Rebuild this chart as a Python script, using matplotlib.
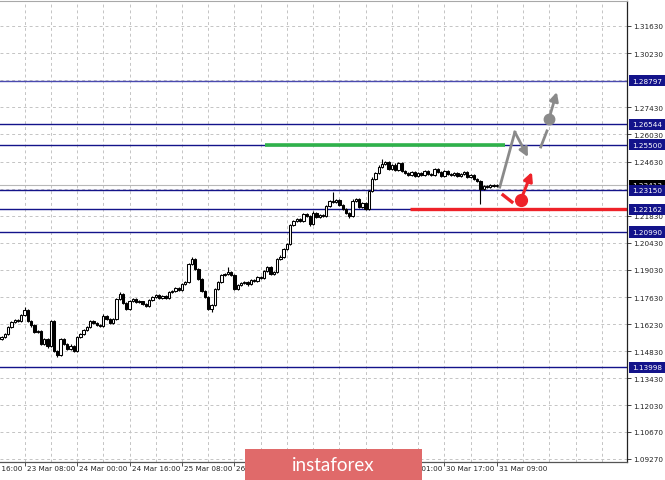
import matplotlib
matplotlib.use("Agg")
import matplotlib.pyplot as plt
import matplotlib.transforms as mtransforms
from matplotlib.patches import Rectangle

# =========================================================
# DATA (H1 candles)
# =========================================================

FIRST_OPEN = 1.1546
CLOSES = [
    1.1556, 1.1572, 1.1608, 1.1634, 1.1644, 1.1639, 1.1670, 1.1696, 1.1639, 1.1618,
    1.1582, 1.1587, 1.1520, 1.1546, 1.1510, 1.1639, 1.1484, 1.1463, 1.1546, 1.1520,
    1.1494, 1.1510, 1.1484, 1.1556, 1.1572, 1.1593, 1.1608, 1.1639, 1.1629, 1.1618,
    1.1613, 1.1665, 1.1649, 1.1629, 1.1649, 1.1753, 1.1779, 1.1732, 1.1701, 1.1742,
    1.1753, 1.1737, 1.1742, 1.1727, 1.1717, 1.1748, 1.1763, 1.1774, 1.1758, 1.1768,
    1.1758, 1.1789, 1.1794, 1.1810, 1.1799, 1.1830, 1.1841, 1.1933, 1.1959, 1.1908,
    1.1856, 1.1794, 1.1763, 1.1701, 1.1722, 1.1804, 1.1841, 1.1877, 1.1882, 1.1892,
    1.1877, 1.1804, 1.1825, 1.1836, 1.1841, 1.1830, 1.1851, 1.1846, 1.1866, 1.1861,
    1.1897, 1.1918, 1.1882, 1.1892, 1.1959, 1.1970, 1.2011, 1.2037, 1.2135, 1.2155,
    1.2166, 1.2155, 1.2192, 1.2181, 1.2140, 1.2197, 1.2176, 1.2186, 1.2181, 1.2233,
    1.2259, 1.2254, 1.2264, 1.2238, 1.2217, 1.2197, 1.2181, 1.2259, 1.2269, 1.2228,
    1.2248, 1.2217, 1.2310, 1.2373, 1.2403, 1.2434, 1.2450, 1.2460, 1.2424, 1.2445,
    1.2419, 1.2455, 1.2414, 1.2403, 1.2393, 1.2409, 1.2388, 1.2403, 1.2393, 1.2414,
    1.2398, 1.2393, 1.2424, 1.2409, 1.2388, 1.2414, 1.2398, 1.2393, 1.2403, 1.2388,
    1.2398, 1.2409, 1.2383, 1.2393, 1.2373, 1.2362, 1.2321, 1.2336, 1.2331, 1.2341,
    1.2336, 1.2341,
]
UP_WICK_PIPS = [
    5, 4, 6, 3, 5, 4, 6, 15, 4, 5,
    6, 5, 4, 8, 5, 6, 7, 5, 6, 4,
    5, 8, 4, 6, 5, 3, 6, 5, 7, 4,
    5, 8, 6, 4, 5, 6, 10, 5, 4, 7,
    5, 4, 6, 3, 5, 6, 4, 5, 7, 4,
    5, 6, 4, 5, 7, 5, 6, 8, 10, 6,
    5, 7, 4, 6, 5, 8, 6, 5, 7, 26,
    5, 6, 4, 7, 5, 6, 4, 5, 8, 5,
    6, 7, 5, 4, 6, 8, 5, 7, 6, 8,
    5, 7, 6, 5, 4, 8, 5, 6, 4, 7,
    6, 46, 5, 6, 4, 5, 7, 8, 6, 5,
    7, 5, 6, 8, 6, 10, 26, 7, 5, 6,
    8, 7, 5, 4, 6, 5, 4, 6, 5, 7,
    5, 6, 8, 5, 4, 7, 5, 6, 4, 5,
    6, 5, 4, 7, 5, 6, 4, 5, 6, 5,
    7, 5,
]
DOWN_WICK_PIPS = [
    6, 5, 4, 6, 5, 7, 4, 5, 6, 8,
    5, 7, 6, 4, 8, 6, 5, 10, 5, 6,
    7, 5, 6, 5, 4, 6, 5, 7, 4, 5,
    6, 4, 7, 5, 6, 4, 5, 7, 6, 5,
    4, 6, 5, 7, 5, 4, 6, 5, 4, 6,
    5, 4, 6, 5, 4, 6, 5, 4, 6, 7,
    6, 5, 7, 5, 15, 6, 5, 7, 4, 6,
    5, 7, 6, 5, 4, 8, 5, 6, 5, 4,
    6, 5, 7, 5, 6, 4, 5, 6, 5, 4,
    6, 5, 7, 5, 10, 6, 5, 7, 5, 6,
    5, 6, 4, 7, 5, 6, 8, 5, 6, 7,
    5, 6, 7, 5, 6, 4, 5, 6, 7, 5,
    6, 5, 7, 4, 6, 5, 7, 5, 6, 4,
    5, 7, 4, 6, 5, 6, 5, 4, 6, 5,
    4, 6, 5, 7, 5, 6, 78, 5, 4, 6,
    5, 4,
]

# levels (blue lines + boxed labels on the price scale)
LEVELS = [1.28797, 1.26544, 1.25500, 1.23150, 1.22162, 1.20990, 1.13998]
CURRENT_PRICE = 1.23413
GREEN_LEVEL = 1.25500
GREEN_SPAN = [80.3, 153.5]
RED_LEVEL = 1.22162
RED_START = 124.5

# forecast sketch (candle index, price)
GRAY_PATH_X = [151.9, 156.5, 160.5]
GRAY_PATH_Y = [1.2331, 1.2615, 1.2486]
GRAY_DASH_X = [164.4, 166.3]
GRAY_DASH_Y = [1.2538, 1.2621]
GRAY_DOT = (166.9, 1.2683)
GRAY_TARGET = (169.3, 1.2822)
RED_DASH_X = [152.9, 155.6]
RED_DASH_Y = [1.2290, 1.2254]
RED_DOT = (158.3, 1.2264)
RED_TARGET = (161.7, 1.2409)

YTICKS = [1.3163, 1.3023, 1.2743, 1.2603, 1.2463, 1.2183, 1.2043, 1.1903,
          1.1763, 1.1623, 1.1483, 1.1343, 1.1203, 1.1067, 1.0927]
YGRID_EXTRA = [1.2883, 1.2323]
XTICK_POS = [-9, 7, 23, 39, 55, 71, 87, 103, 119, 135, 151]
XTICK_LABELS = ["22 Mar 16:00", "23 Mar 08:00", "24 Mar 00:00", "24 Mar 16:00",
                "25 Mar 08:00", "26 Mar 00:00", "26 Mar 16:00", "27 Mar 08:00",
                "30 Mar 01:00", "30 Mar 17:00", "31 Mar 09:00"]

# =========================================================
# STYLE
# =========================================================

NAVY = "#13138a"
GRID = "#c4c4c4"
GREEN = "#2fb24a"
RED = "#ee2229"
GRAY = "#8a8a8a"
W, H = 665, 481

fig = plt.figure(figsize=(W / 100, H / 100), dpi=100)
ax = fig.add_axes([0, 18 / H, 627 / W, (463 - 2) / H])
ax.set_xlim(-0.5, 190.7)
ax.set_ylim(1.0911, 1.3292)

# grid
for v in YTICKS + YGRID_EXTRA:
    ax.axhline(v, color=GRID, lw=0.7, ls=(0, (3, 3)), zorder=0)
for g in range(-1, 191, 8):
    ax.axvline(g, color=GRID, lw=0.7, ls=(0, (3, 3)), zorder=0)

# levels
for lv in LEVELS:
    c = "#4a4ab0" if lv == LEVELS[0] else NAVY
    ax.axhline(lv, color=c, lw=1.0, zorder=1)
ax.axhline(CURRENT_PRICE, color="#b8b8b8", lw=0.8, zorder=1)
ax.plot(GREEN_SPAN, [GREEN_LEVEL] * 2, color=GREEN, lw=2.6, zorder=2, solid_capstyle="butt")
ax.plot([RED_START, 191], [RED_LEVEL] * 2, color=RED, lw=2.4, zorder=2, solid_capstyle="butt")

# candles
opens = [FIRST_OPEN] + CLOSES[:-1]
for i, (o, c) in enumerate(zip(opens, CLOSES)):
    hi = max(o, c) + UP_WICK_PIPS[i] * 1e-4
    lo = min(o, c) - DOWN_WICK_PIPS[i] * 1e-4
    ax.vlines(i, lo, hi, color="black", lw=0.8, zorder=3)
    fc = "white" if c >= o else "black"
    ax.bar(i, abs(c - o), bottom=min(o, c), width=0.72, facecolor=fc,
           edgecolor="black", linewidth=0.75, zorder=4)

# forecast arrows
ax.plot(GRAY_PATH_X[:2], GRAY_PATH_Y[:2], color=GRAY, lw=2.0, zorder=5)
ax.annotate("", xy=(GRAY_PATH_X[2], GRAY_PATH_Y[2]), xytext=(GRAY_PATH_X[1], GRAY_PATH_Y[1]),
            arrowprops=dict(arrowstyle="-|>", color=GRAY, lw=2.0, mutation_scale=13,
                            shrinkA=0, shrinkB=0), zorder=5)
ax.plot(GRAY_DASH_X, GRAY_DASH_Y, color=GRAY, lw=2.0, zorder=5)
ax.plot(*GRAY_DOT, "o", ms=7.5, color=GRAY, zorder=5)
ax.annotate("", xy=GRAY_TARGET, xytext=GRAY_DOT,
            arrowprops=dict(arrowstyle="-|>", color=GRAY, lw=2.0, mutation_scale=13,
                            shrinkA=0, shrinkB=0), zorder=5)
ax.plot(RED_DASH_X, RED_DASH_Y, color=RED, lw=2.4, zorder=5)
ax.plot(*RED_DOT, "o", ms=8.5, color=RED, zorder=5)
ax.annotate("", xy=RED_TARGET, xytext=RED_DOT,
            arrowprops=dict(arrowstyle="-|>", color=RED, lw=2.2, mutation_scale=13,
                            shrinkA=0, shrinkB=0), zorder=5)

# axes / ticks
ax.spines["left"].set_visible(False)
ax.spines["top"].set_color("#a8a8a8")
ax.spines["right"].set_color("#222222")
ax.spines["bottom"].set_color("#555555")
ax.spines["top"].set_linewidth(0.8)
ax.spines["right"].set_linewidth(0.9)
ax.spines["bottom"].set_linewidth(0.9)
ax.yaxis.tick_right()
ax.set_yticks(YTICKS)
ax.set_yticklabels([f"{v:.5f}" for v in YTICKS])
ax.tick_params(axis="y", length=3, width=0.6, pad=1.5, labelsize=5.2, colors="#222222")
ax.set_xticks([p for p in XTICK_POS if p >= 0])
ax.set_xticklabels([])
ax.tick_params(axis="x", length=3, width=0.6, direction="out", colors="#333333")

for p, lab in zip(XTICK_POS, XTICK_LABELS):
    ax.annotate(lab, xy=(p, 0), xycoords=("data", "axes fraction"),
                xytext=(2, -3), textcoords="offset pixels", ha="left", va="top",
                fontsize=5.2, color="#222222", annotation_clip=False)

# boxed price labels
trans = mtransforms.blended_transform_factory(ax.transAxes, ax.transData)
ax.text(1 + 5 / 627, CURRENT_PRICE, f"{CURRENT_PRICE:.5f}", transform=trans,
        ha="left", va="center", fontsize=5.2, color="white", zorder=10, clip_on=False,
        bbox=dict(boxstyle="square,pad=0.35", fc="black", ec="none"))
for lv in LEVELS:
    ax.text(1 + 5 / 627, lv, f"{lv:.5f}", transform=trans, ha="left", va="center",
            fontsize=5.2, color="white", zorder=11, clip_on=False,
            bbox=dict(boxstyle="square,pad=0.35", fc=NAVY, ec="none"))

# watermark
fig.patches.append(Rectangle((245 / W, 0), 177 / W, 31 / H, transform=fig.transFigure,
                             facecolor="#e06a6a", edgecolor="none", zorder=20))
fig.text(333.5 / W, (H - 465.5) / H, "instaforex", ha="center", va="center",
         fontsize=13.5, color="white", family=["Lato", "DejaVu Sans"], zorder=21)

fig.savefig("out.png", dpi=100, facecolor="white")
